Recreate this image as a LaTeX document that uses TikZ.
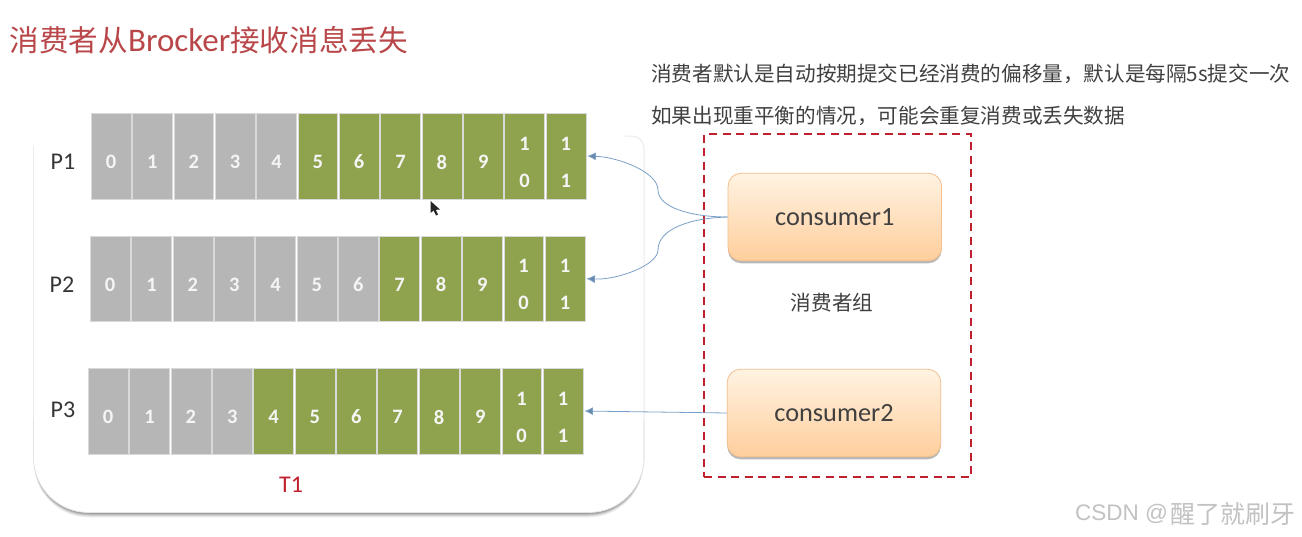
\documentclass[tikz,border=0pt]{standalone}
\usepackage{fontspec}
\setmainfont{Carlito}
\newfontfamily\cjk{Noto Sans CJK SC}
\newfontfamily\wm{Liberation Sans}
\usetikzlibrary{arrows.meta,shadows}
\definecolor{cellgray}{HTML}{B6B6B6}
\definecolor{cellgreen}{HTML}{8FA34F}
\definecolor{titlered}{HTML}{B9474A}
\definecolor{dashred}{HTML}{C01F2D}
\definecolor{arrowblue}{HTML}{7BA0C8}
\definecolor{ink}{HTML}{404040}
\definecolor{ctop}{HTML}{FFF3E2}
\definecolor{cmid}{HTML}{FFE6C6}
\definecolor{cbot}{HTML}{FFCE9C}
\definecolor{cedge}{HTML}{F3BE8C}
\tikzset{
  x=1pt,y=-1pt,
  cellbox/.style={draw=white!85!black,line width=.5pt,minimum width=39.8pt,minimum height=85.5pt,inner sep=0pt,outer sep=0pt},
  celltext/.style={text=white!96!black,font=\fontsize{20.5}{37}\selectfont\bfseries,align=center,inner sep=0pt},
  plabel/.style={text=ink!85!black,font=\fontsize{24}{26}\selectfont,inner sep=0pt},
  consumer/.style={draw=cedge,line width=.8pt,rounded corners=13pt,inner sep=0pt,
    minimum width=213.5pt,minimum height=87.5pt,top color=ctop,middle color=cmid,bottom color=cbot,
    text=ink,font=\fontsize{26.3}{30}\selectfont,drop shadow={shadow xshift=0pt,shadow yshift=-2.5pt,fill=black,opacity=.28}},
  flow/.style={draw=arrowblue,line width=.8pt,-{Latex[length=8.5pt,width=8pt,fill=arrowblue!85!black]}},
  cjktext/.style={text=ink,font=\fontsize{20.6}{24}\selectfont\cjk,inner sep=0pt},
}
\newcommand{\mkrow}[6]{% name, x, y centre, grey count
  \foreach \i in {0,...,11}{
    \pgfmathtruncatemacro{\isgray}{\i<#4 ? 1 : 0}
    \ifnum\isgray=1 \def\cc{cellgray}\else\def\cc{cellgreen}\fi
    \node[cellbox,fill=\cc] (#1c\i) at ({#2+20.67+\i*#5},#3) {};
    \ifnum\i<10
      \node[celltext] (#1t\i) at ({#2+20.67+\i*#5},{#3+#6}) {\i};
    \else
      \pgfmathtruncatemacro{\lastd}{\i-10}
      \node[celltext] (#1t\i) at ({#2+20.67+\i*#5},{#3+#6}) {1\\\lastd};
    \fi
  }
}
\begin{document}
\begin{tikzpicture}
\useasboundingbox (0,0) rectangle (1302,536);
\fill[white] (0,0) rectangle (1302,536);

% topic container: soft shadow below, faint sides
\foreach \o/\a in {5/.05,4/.08,3/.10,2/.12,1/.14}{
  \fill[black,opacity=\a,rounded corners=55pt] (34,300) -- (34,{512.5+\o}) -- (643.5,{512.5+\o}) -- (643.5,300) -- cycle;
}
\fill[white,rounded corners=55pt] (33.5,134) rectangle (644,512.5);
\draw[black!8,line width=1pt,rounded corners=12pt] (625,136) -- (644,136) -- (644,460);
\draw[black!8,line width=1pt] (33.5,145) -- (33.5,460);
\draw[black!11,line width=.8pt,rounded corners=55pt] (33.5,420) -- (33.5,512.5) -- (644,512.5) -- (644,420);

\mkrow{pa}{90.4}{156}{5}{41.35}{6}
\mkrow{pb}{89.5}{278.7}{7}{41.35}{6}
\mkrow{pc}{87.5}{411}{4}{41.35}{6}

\node[plabel] (la) at (63,162) {P1};
\node[plabel] (lb) at (62,285) {P2};
\node[plabel] (lc) at (63,410) {P3};
\node[text=dashred,font=\fontsize{24}{26}\selectfont,inner sep=0pt] (topic) at (291,485) {T1};

% mouse cursor
\fill[black!85] (430.5,201) -- (430.5,213) -- (433.5,210.5) -- (436,215.5) -- (438,214.5) -- (435.8,209.8) -- (440,209.5) -- cycle;

\node[draw=dashred,line width=2pt,dash pattern=on 8pt off 5.5pt,minimum width=267pt,minimum height=343pt,inner sep=0pt] (group) at (837.5,305.5) {};
\node[consumer] (ca) at (834.8,217) {consumer1};
\node[consumer] (cb) at (834,413) {consumer2};
\node[cjktext] (gl) at (832,303) {消费者组};

\draw[flow,shorten >=1.5pt] (ca.west) .. controls (690,217) and (658,207) .. (658,190) .. controls (658,172) and (618,157) .. (pac11.east);
\draw[flow,shorten >=1.5pt] (ca.west) .. controls (690,218) and (658,229) .. (658,250) .. controls (658,265) and (618,280) .. (pbc11.east);
\draw[flow,shorten >=1.5pt] (cb.west) -- (pcc11.east);

\node[anchor=west,text=titlered,font=\fontsize{33}{34}\selectfont,inner sep=0pt] (title) at (9.5,40) {{\fontsize{29.6}{34}\selectfont\cjk 消费者从}Brocker{\fontsize{29.6}{34}\selectfont\cjk 接收消息丢失}};
\node[cjktext,anchor=west] (notea) at (651,74) {消费者默认是自动按期提交已经消费的偏移量，默认是每隔5s提交一次};
\node[cjktext,anchor=west] (noteb) at (651,116) {如果出现重平衡的情况，可能会重复消费或丢失数据};
\node[anchor=west,text=black!24,font=\fontsize{22.5}{26}\selectfont\wm,inner sep=0pt] (marka) at (1075,514) {CSDN @};
\node[anchor=west,text=black!24,font=\fontsize{25}{26}\selectfont\cjk,inner sep=0pt] (markb) at (1170,514) {醒了就刷牙};
\end{tikzpicture}
\end{document}
